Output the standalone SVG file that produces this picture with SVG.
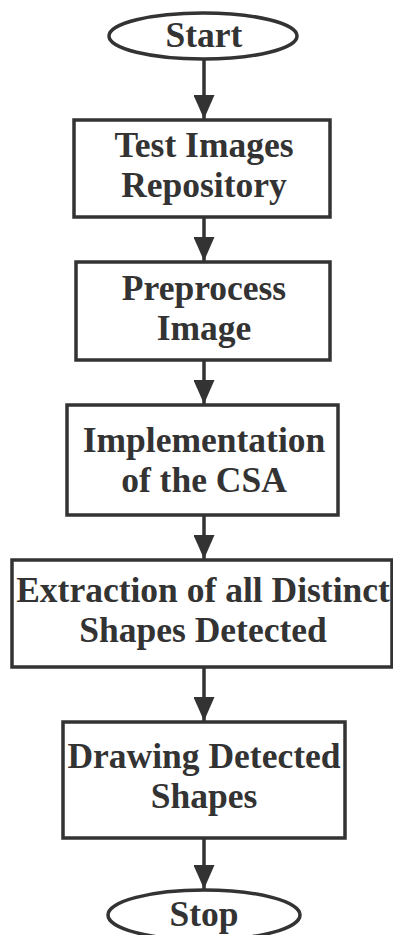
<svg xmlns="http://www.w3.org/2000/svg" width="393" height="935" viewBox="0 0 393 935">
  <style>
    .shape { fill: #ffffff; stroke: #333333; stroke-width: 3.5; }
    .label { font-family: "Liberation Serif", "Times New Roman", serif; font-weight: bold; font-size: 35.5px; fill: #333333; text-anchor: middle; }
    .link { stroke: #333333; stroke-width: 3.5; fill: none; marker-end: url(#arrow); }
  </style>
  <defs>
    <marker id="arrow" markerUnits="userSpaceOnUse" markerWidth="24" markerHeight="21" refX="24" refY="10.5" orient="auto" viewBox="0 0 24 21">
      <path d="M0,0 L24,10.5 L0,21 Z" fill="#333333"/>
    </marker>
  </defs>
  <rect width="393" height="935" fill="#ffffff"/>

  <g id="connectors">
    <line class="link" x1="204" y1="60" x2="204" y2="119"/>
    <line class="link" x1="204" y1="218" x2="204" y2="261"/>
    <line class="link" x1="204" y1="361" x2="204" y2="404"/>
    <line class="link" x1="204" y1="516" x2="204" y2="559"/>
    <line class="link" x1="204" y1="668" x2="204" y2="721"/>
    <line class="link" x1="204" y1="839" x2="204" y2="889"/>
  </g>

  <g id="start">
    <ellipse class="shape" cx="203" cy="36" rx="94" ry="23"/>
    <text class="label" x="204" y="47">Start</text>
  </g>

  <g id="test-images">
    <rect class="shape" x="74" y="120" width="256" height="97"/>
    <text class="label" x="204" y="157">Test Images</text>
    <text class="label" x="204" y="197">Repository</text>
  </g>

  <g id="preprocess">
    <rect class="shape" x="76" y="262" width="254" height="98"/>
    <text class="label" x="204" y="300">Preprocess</text>
    <text class="label" x="204" y="340">Image</text>
  </g>

  <g id="csa">
    <rect class="shape" x="67" y="405" width="271" height="110"/>
    <text class="label" x="204" y="452">Implementation</text>
    <text class="label" x="204" y="492">of the CSA</text>
  </g>

  <g id="extraction">
    <rect class="shape" x="12" y="560" width="380" height="107"/>
    <text class="label" x="203" y="602">Extraction of all Distinct</text>
    <text class="label" x="203" y="642">Shapes Detected</text>
  </g>

  <g id="drawing">
    <rect class="shape" x="63" y="722" width="282" height="116"/>
    <text class="label" x="204" y="768">Drawing Detected</text>
    <text class="label" x="204" y="808">Shapes</text>
  </g>

  <g id="stop">
    <ellipse class="shape" cx="204" cy="915" rx="96" ry="25"/>
    <text class="label" x="204" y="926">Stop</text>
  </g>
</svg>
